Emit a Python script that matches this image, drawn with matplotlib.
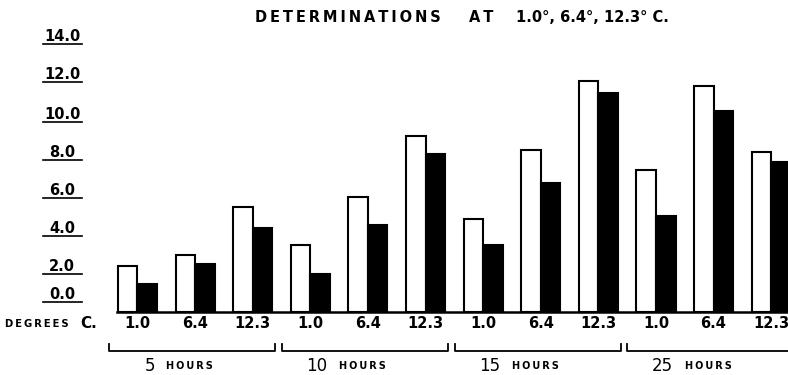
import matplotlib
matplotlib.use("Agg")
import matplotlib.pyplot as plt
import numpy as np

# ── Data ────────────────────────────────────────────────────────────
hours       = ["5", "10", "15", "25"]
temps       = ["1.0", "6.4", "12.3"]
white_vals  = [2.4, 3.0, 5.5,  3.55, 6.05, 9.25,  4.9, 8.5, 12.15,  7.45, 11.9, 8.4]
black_vals  = [1.45, 2.5, 4.4,  2.0, 4.6, 8.3,  3.5, 6.8, 11.55,  5.05, 10.6, 7.9]
ytick_vals  = [0.5, 2, 4, 6, 8, 10, 12.1, 14.1]
ytick_text  = ["0.0", "2.0", "4.0", "6.0", "8.0", "10.0", "12.0", "14.0"]

BW = 0.34   # bar width in pair units
x = np.arange(len(white_vals))

def spaced(s):
    return "\u2009".join(s)

fig = plt.figure(figsize=(7.88, 3.75), dpi=100)
ax = fig.add_axes([100 / 788, 63 / 375, 688 / 788, 282 / 375])

ax.bar(x - BW, white_vals, width=BW, align="edge", color="white",
       edgecolor="black", linewidth=1.5)
ax.bar(x, black_vals, width=BW, align="edge", color="black",
       edgecolor="black", linewidth=1.5)

ax.set_xlim(-0.651, 11.293)
ax.set_ylim(0, 14.84)
for s in ["top", "right", "left"]:
    ax.spines[s].set_visible(False)
ax.spines["bottom"].set_linewidth(1.8)
ax.spines["bottom"].set_bounds(-0.36, 11.3)

# x tick labels: temperature under each pair
ax.set_xticks(x)
ax.set_xticklabels(temps * len(hours), fontsize=10.5, fontweight="bold")
ax.tick_params(axis="x", length=0, pad=3)
ax.set_yticks([])

# y labels with underline
ytr = ax.get_yaxis_transform()
for v, t in zip(ytick_vals, ytick_text):
    ax.text(-0.055, v, t, transform=ytr, ha="center", va="bottom",
            fontsize=10.5, fontweight="bold", clip_on=False)
    ax.plot([-0.083, -0.026], [v, v], transform=ytr, color="black",
            lw=1.2, clip_on=False)

# "DEGREES C." label
fig.text(5 / 788, 1 - 324 / 375, spaced("DEGREES"), fontsize=7.2,
         fontweight="bold", va="center", ha="left")
fig.text(80 / 788, 1 - 323 / 375, "C.", fontsize=11, fontweight="bold",
         va="center", ha="left")

# hour brackets and labels
xtr = ax.get_xaxis_transform()
for g, h in enumerate(hours):
    x0, x1 = 3 * g - 0.495, 3 * g + 2.39
    ax.plot([x0, x0, x1, x1], [-0.113, -0.138, -0.138, -0.113],
            transform=xtr, color="black", lw=1.3, clip_on=False)
    xn = 3 * g + 0.3
    ax.text(xn, -0.19, h, transform=xtr, ha="right", va="center",
            fontsize=12, clip_on=False)
    ax.text(xn + 0.2, -0.19, spaced("HOURS"), transform=xtr,
            ha="left", va="center", fontsize=7, fontweight="bold",
            clip_on=False)

# title, in three pieces like the hand lettering
ty = 1 - 17 / 375
fig.text(255 / 788, ty, spaced("DETERMINATIONS"), fontsize=10.5,
         fontweight="bold", ha="left", va="center")
fig.text(469 / 788, ty, spaced("AT"), fontsize=10.5, fontweight="bold",
         ha="left", va="center")
fig.text(516 / 788, ty, "1.0\u00b0, 6.4\u00b0, 12.3\u00b0 C.",
         fontsize=10.5, fontweight="bold", ha="left", va="center")

plt.savefig("out.png", dpi=100)
